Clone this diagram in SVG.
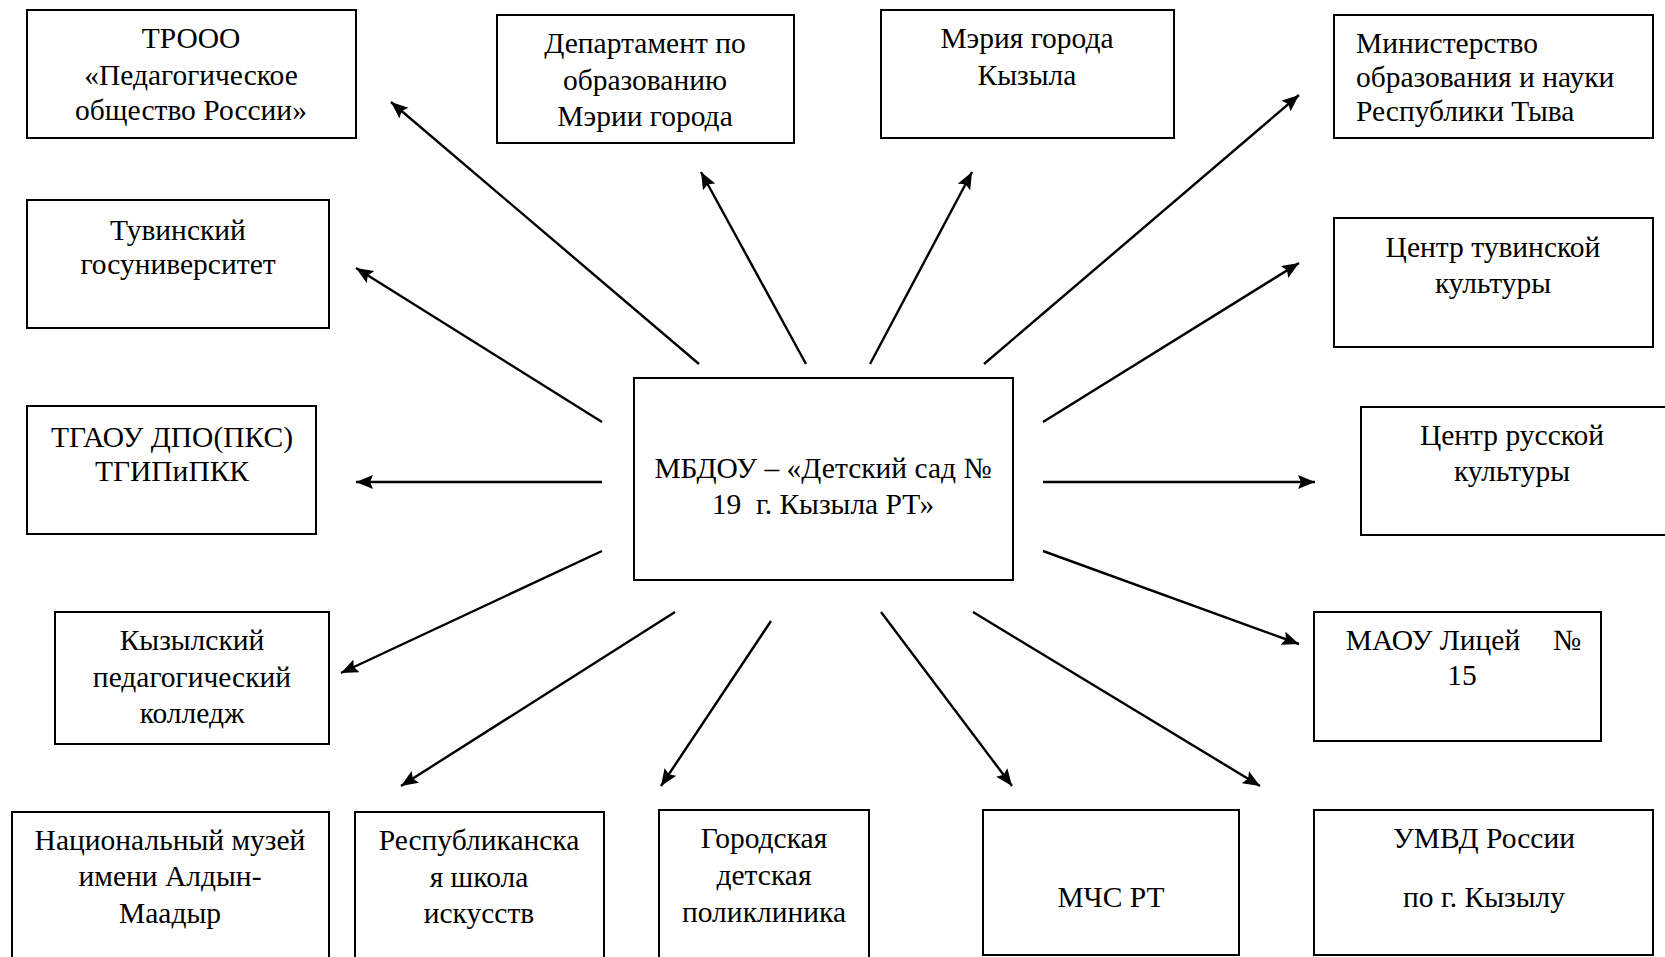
<svg xmlns="http://www.w3.org/2000/svg" width="1665" height="957" viewBox="0 0 1665 957">
<style>
.b{fill:#fff;stroke:#000;stroke-width:2}
.t{font-family:"Liberation Serif","Times New Roman",serif;font-size:29.5px;fill:#000;text-anchor:middle}
.l{text-anchor:start}
.c line{stroke:#000;stroke-width:2.4;marker-end:url(#ah)}
</style>
<defs>
<marker id="ah" markerUnits="userSpaceOnUse" markerWidth="19" markerHeight="15" refX="17" refY="7" orient="auto">
<path d="M0,0 L17,7 L0,14 L3,7 z" fill="#000"/>
</marker>
</defs>
<rect width="1665" height="957" fill="#fff"/>
<g id="n-center"><rect class="b" x="634" y="378" width="379" height="202"/>
<text class="t" x="823" y="478">МБДОУ – «Детский сад №</text><text class="t" x="823" y="514" xml:space="preserve">19  г. Кызыла РТ»</text></g>
<g id="n-trooo"><rect class="b" x="27" y="10" width="329" height="128"/>
<text class="t" x="191" y="48">ТРООО</text><text class="t" x="191" y="85">«Педагогическое</text><text class="t" x="191" y="120">общество России»</text></g>
<g id="n-dep"><rect class="b" x="497" y="15" width="297" height="128"/>
<text class="t" x="645" y="53">Департамент по</text><text class="t" x="645" y="90">образованию</text><text class="t" x="645" y="126">Мэрии города</text></g>
<g id="n-meria"><rect class="b" x="881" y="10" width="293" height="128"/>
<text class="t" x="1027" y="48">Мэрия города</text><text class="t" x="1027" y="85">Кызыла</text></g>
<g id="n-min"><rect class="b" x="1334" y="15" width="319" height="123"/>
<text class="t l" x="1356" y="53">Министерство</text><text class="t l" x="1356" y="87">образования и науки</text><text class="t l" x="1356" y="121">Республики Тыва</text></g>
<g id="n-tgu"><rect class="b" x="27" y="200" width="302" height="128"/>
<text class="t" x="178" y="240">Тувинский</text><text class="t" x="178" y="274">госуниверситет</text></g>
<g id="n-ctk"><rect class="b" x="1334" y="218" width="319" height="129"/>
<text class="t" x="1493" y="257">Центр тувинской</text><text class="t" x="1493" y="293">культуры</text></g>
<g id="n-tgaou"><rect class="b" x="27" y="406" width="289" height="128"/>
<text class="t" x="172" y="447">ТГАОУ ДПО(ПКС)</text><text class="t" x="172" y="481">ТГИПиПКК</text></g>
<g id="n-crk"><rect class="b" x="1361" y="407" width="310" height="128"/>
<text class="t" x="1512" y="445">Центр русской</text><text class="t" x="1512" y="481">культуры</text></g>
<g id="n-kpk"><rect class="b" x="55" y="612" width="274" height="132"/>
<text class="t" x="192" y="650">Кызылский</text><text class="t" x="192" y="687">педагогический</text><text class="t" x="192" y="723">колледж</text></g>
<g id="n-maou"><rect class="b" x="1314" y="612" width="287" height="129"/>
<text class="t"><tspan x="1433" y="650">МАОУ Лицей</tspan><tspan x="1567" y="650">№</tspan></text><text class="t" x="1462" y="685">15</text></g>
<g id="n-museum"><rect class="b" x="12" y="812" width="317" height="150"/>
<text class="t" x="170" y="850">Национальный музей</text><text class="t" x="170" y="886">имени Алдын-</text><text class="t" x="170" y="923">Маадыр</text></g>
<g id="n-school"><rect class="b" x="355" y="812" width="249" height="150"/>
<text class="t" x="479" y="850">Республиканска</text><text class="t" x="479" y="887">я школа</text><text class="t" x="479" y="923">искусств</text></g>
<g id="n-clinic"><rect class="b" x="659" y="810" width="210" height="150"/>
<text class="t" x="764" y="848">Городская</text><text class="t" x="764" y="885">детская</text><text class="t" x="764" y="922">поликлиника</text></g>
<g id="n-mchs"><rect class="b" x="983" y="810" width="256" height="145"/>
<text class="t" x="1111" y="907">МЧС РТ</text></g>
<g id="n-umvd"><rect class="b" x="1314" y="810" width="339" height="145"/>
<text class="t" x="1484" y="848">УМВД России</text><text class="t" x="1484" y="907">по г. Кызылу</text></g>
<g id="connectors" class="c">
<line x1="699" y1="364" x2="391" y2="102"/>
<line x1="806" y1="364" x2="701" y2="172"/>
<line x1="870" y1="364" x2="972" y2="172"/>
<line x1="984" y1="364" x2="1299" y2="95"/>
<line x1="602" y1="422" x2="356" y2="268"/>
<line x1="1043" y1="422" x2="1299" y2="263"/>
<line x1="602" y1="482" x2="356" y2="482"/>
<line x1="1043" y1="482" x2="1315" y2="482"/>
<line x1="602" y1="551" x2="341" y2="673"/>
<line x1="1043" y1="551" x2="1299" y2="644"/>
<line x1="675" y1="612" x2="401" y2="786"/>
<line x1="771" y1="621" x2="661" y2="786"/>
<line x1="881" y1="612" x2="1012" y2="786"/>
<line x1="973" y1="612" x2="1260" y2="786"/>
</g>
</svg>
